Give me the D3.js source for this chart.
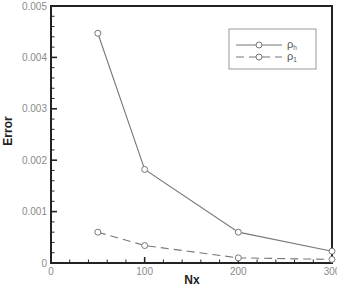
<!DOCTYPE html>
<html>
<head>
<meta charset="utf-8">
<script src="https://cdn.jsdelivr.net/npm/d3@7"></script>
<style>
  body { margin: 0; background: #fff; }
  svg { display: block; font-family: "Liberation Sans", Arial, sans-serif; }
</style>
</head>
<body>
<svg id="chart"></svg>
<script>
/* data */
const nx = [50, 100, 200, 300];
const errRhoH = [0.00447, 0.00182, 0.00060, 0.00023];
const errRho1 = [0.00060, 0.00034, 0.00010, 0.00007];
const xTicks = [0, 100, 200, 300];
const yTicks = [0, 0.001, 0.002, 0.003, 0.004, 0.005];

const width = 337, height = 287;
const margin = {top: 6, right: 5, bottom: 24, left: 51};

const svg = d3.select("#chart").attr("width", width).attr("height", height);

x = d3.scaleLinear().domain([0, 300]).range([margin.left, width - margin.right]);
y = d3.scaleLinear().domain([0, 0.005]).range([height - margin.bottom, margin.top]);

const axisColor = "#222", labColor = "#8a8a8a", lineColor = "#777";

/*** minor ticks (inside) */
let g = svg.append("g");
g.selectAll(".xm").data(d3.range(0, 301, 20)).join("line")
    .attr("x1", d => x(d)).attr("x2", d => x(d))
    .attr("y1", y(0)).attr("y2", d => y(0) - (d % 100 == 0 ? 6 : 3.5))
    .attr("stroke", axisColor).attr("stroke-width", d => d % 100 == 0 ? 1.6 : 1);
g.selectAll(".ym").data(d3.range(0, 26).map(i => i * 0.0002)).join("line")
    .attr("y1", d => y(d)).attr("y2", d => y(d))
    .attr("x1", x(0)).attr("x2", (d, i) => x(0) + (i % 5 == 0 ? 6 : 3.5))
    .attr("stroke", axisColor).attr("stroke-width", (d, i) => i % 5 == 0 ? 1.6 : 1);

/*** frame */
svg.append("rect")
    .attr("x", x(0)).attr("y", y(0.005))
    .attr("width", x(300) - x(0)).attr("height", y(0) - y(0.005))
    .attr("fill", "none").attr("stroke", axisColor).attr("stroke-width", 2);

/*** tick labels */
svg.append("g").selectAll("text").data(xTicks).join("text")
    .attr("x", d => x(d)).attr("y", y(0) + 12)
    .attr("text-anchor", "middle").attr("font-size", "10px")
    .attr("fill", labColor).text(d => d);
svg.append("g").selectAll("text").data(yTicks).join("text")
    .attr("x", x(0) - 4).attr("y", d => y(d) + 3.5)
    .attr("text-anchor", "end").attr("font-size", "10px")
    .attr("fill", labColor).text(d => d == 0 ? "0" : d3.format(".3f")(d));

/*** axis titles */
svg.append("text").attr("x", 192).attr("y", 284)
    .attr("text-anchor", "middle").attr("font-size", "12px").attr("font-weight", "bold")
    .attr("fill", axisColor).text("Nx");
svg.append("text").attr("transform", "translate(12,131) rotate(-90)")
    .attr("text-anchor", "middle").attr("font-size", "12px").attr("font-weight", "bold")
    .attr("fill", axisColor).text("Error");

/*** series */
const series = [
  {vals: errRhoH, dash: null},
  {vals: errRho1, dash: "8,5"}
];
const line = d3.line().x(d => x(d[0])).y(d => y(d[1]));
series.forEach(s => {
  const pts = nx.map((n, i) => [n, s.vals[i]]);
  svg.append("path").datum(pts).attr("d", line)
      .attr("fill", "none").attr("stroke", lineColor).attr("stroke-width", 1.1)
      .attr("stroke-dasharray", s.dash);
  svg.append("g").selectAll("circle").data(pts).join("circle")
      .attr("cx", d => x(d[0])).attr("cy", d => y(d[1])).attr("r", 3)
      .attr("fill", "#fff").attr("stroke", lineColor).attr("stroke-width", 1);
});

/*** legend */
const lg = svg.append("g");
lg.append("rect").attr("x", 229).attr("y", 29).attr("width", 87).attr("height", 40)
    .attr("fill", "#fff").attr("stroke", "#999").attr("stroke-width", 1);
const legNames = [["ρ", "h"], ["ρ", "1"]];
series.forEach((s, i) => {
  const yy = 45 + i * 12;
  lg.append("line").attr("x1", 236).attr("x2", 282).attr("y1", yy).attr("y2", yy)
      .attr("stroke", lineColor).attr("stroke-width", 1.1).attr("stroke-dasharray", s.dash);
  lg.append("circle").attr("cx", 259).attr("cy", yy).attr("r", 3)
      .attr("fill", "#fff").attr("stroke", lineColor);
  const t = lg.append("text").attr("x", 287).attr("y", yy + 3)
      .attr("font-size", "11px").attr("fill", "#555");
  t.append("tspan").text(legNames[i][0]);
  t.append("tspan").attr("font-size", "6.5px").attr("dy", 1.5).text(legNames[i][1]);
});
</script>
</body>
</html>
